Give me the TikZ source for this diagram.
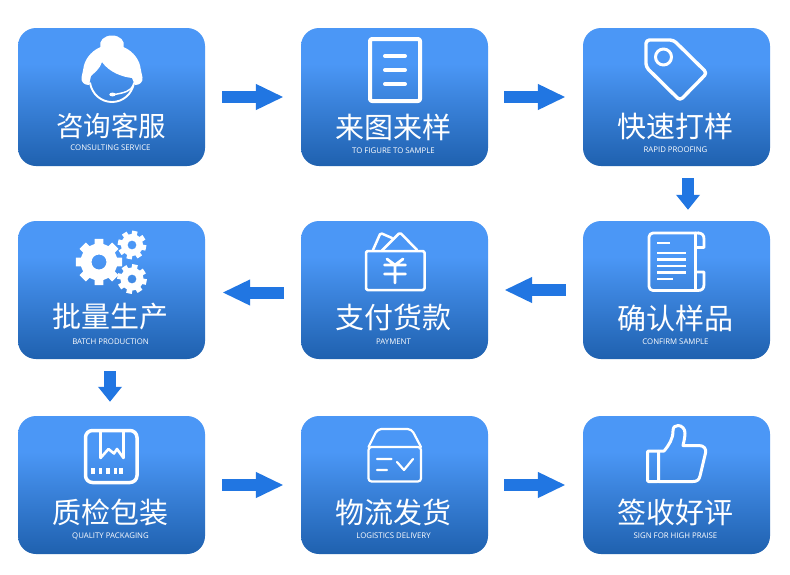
\documentclass[tikz,border=0pt]{standalone}
\usepackage{fontspec}
\usetikzlibrary{arrows.meta,calc}
\newfontfamily\cjkfont{Noto Sans CJK SC}
\newfontfamily\latfont{Open Sans}
\definecolor{cardtop}{RGB}{75,151,246}
\definecolor{cardbot}{RGB}{31,97,175}
\definecolor{arrowblue}{RGB}{33,118,226}
\pgfdeclareverticalshading{cardgrad}{100bp}{color(0bp)=(cardbot);color(25bp)=(cardbot);color(52bp)=(cardtop!72!cardbot);color(62bp)=(cardtop);color(75bp)=(cardtop);color(100bp)=(cardtop)}
\tikzset{
  card/.style={minimum width=187pt,minimum height=138pt,inner sep=0pt,rounded corners=18pt,shading=cardgrad,draw=none},
  cntitle/.style={text=white,font=\cjkfont\fontsize{29}{29}\selectfont,inner sep=0pt},
  entitle/.style={text=white,font=\latfont\fontsize{7.8}{8}\selectfont,inner sep=0pt},
  flowh/.style={arrowblue,line width=12pt,-{Triangle[length=28pt,width=24pt]},shorten >=17pt,shorten <=17pt},
  flowv/.style={arrowblue,line width=12pt,-{Triangle[length=15pt,width=23pt]}},
  ico/.style={white,line width=#1,line join=round,line cap=round},
  ico/.default=2.5pt
}
\newcommand{\gearshape}[6]{%
  \fill[white,even odd rule]
    ($(#1,#2)+(#3-14:#4)$) \foreach \a in {0,45,...,315}{
      -- ($(#1,#2)+(#3+\a-14:#4)$) -- ($(#1,#2)+(#3+\a-11:#5)$) -- ($(#1,#2)+(#3+\a+11:#5)$) -- ($(#1,#2)+(#3+\a+14:#4)$)
    } -- cycle (#1,#2) circle[radius=#6];}
\begin{document}
\begin{tikzpicture}[x=1pt,y=-1pt]
\useasboundingbox (0,0) rectangle (790,574);
\fill[white] (0,0) rectangle (790,574);
% cards
\node[card] (c1) at (111.5,97) {};
\node[card] (c2) at (394.5,97) {};
\node[card] (c3) at (676.5,97) {};
\node[card] (c4) at (111.5,290) {};
\node[card] (c5) at (394.5,290) {};
\node[card] (c6) at (676.5,290) {};
\node[card] (c7) at (111.5,485) {};
\node[card] (c8) at (394.5,485) {};
\node[card] (c9) at (676.5,485) {};
% titles
\node[cntitle,font=\cjkfont\fontsize{27.5}{28}\selectfont] (t1) at (111,126) {咨询客服};
\node[cntitle] (t2) at (393.5,127) {来图来样};
\node[cntitle] (t3) at (675.5,126) {快速打样};
\node[cntitle] (t4) at (110.5,317) {批量生产};
\node[cntitle] (t5) at (393.5,317) {支付货款};
\node[cntitle] (t6) at (675.5,318) {确认样品};
\node[cntitle] (t7) at (110.5,512) {质检包装};
\node[cntitle] (t8) at (393.5,512) {物流发货};
\node[cntitle] (t9) at (675.5,512) {签收好评};
\node[entitle] (e1) at (110.5,148) {CONSULTING SERVICE};
\node[entitle] (e2) at (393.5,151) {TO FIGURE TO SAMPLE};
\node[entitle] (e3) at (675.5,150) {RAPID PROOFING};
\node[entitle] (e4) at (110.5,342) {BATCH PRODUCTION};
\node[entitle] (e5) at (393.5,342) {PAYMENT};
\node[entitle] (e6) at (675.5,342) {CONFIRM SAMPLE};
\node[entitle] (e7) at (110.5,536) {QUALITY PACKAGING};
\node[entitle] (e8) at (393.5,536) {LOGISTICS DELIVERY};
\node[entitle] (e9) at (675.5,536) {SIGN FOR HIGH PRAISE};
% connectors
\draw[flowh] (c1.east) -- (c2.west);
\draw[flowh,shorten <=16pt] (c2.east) -- (c3.west);
\draw[flowv] ([xshift=11.5pt,yshift=-12pt]c3.south) -- ([xshift=11.5pt,yshift=11pt]c6.north);
\draw[flowh,shorten >=16pt] (c6.west) -- (c5.east);
\draw[flowh] ([yshift=-2.5pt]c5.west) -- ([yshift=-2.5pt]c4.east);
\draw[flowv] ([xshift=-1.5pt,yshift=-12pt]c4.south) -- ([xshift=-1.5pt,yshift=14pt]c7.north);
\draw[flowh] (c7.east) -- (c8.west);
\draw[flowh,shorten <=16pt] (c8.east) -- (c9.west);
% icon 1: agent
\fill[white] (89,85) .. controls (84,85) and (81,82) .. (81.5,77.5)
  .. controls (81.8,74) and (83,73) .. (83.3,69)
  .. controls (84,61) and (90,51.5) .. (100.5,47)
  .. controls (98.5,41) and (104,35.5) .. (112,35.5)
  .. controls (120,35.5) and (125.5,41) .. (123.5,47)
  .. controls (134,51.5) and (140,61) .. (140.7,69)
  .. controls (141,73) and (142.2,74) .. (142.5,77.5)
  .. controls (143,82) and (140,85) .. (135,85)
  -- (132,78) .. controls (122,77) and (109,72) .. (102,62)
  .. controls (100,69) and (94,73) .. (91,76) -- cycle;
\draw[ico=1.9pt] (90,83) .. controls (92,94) and (101,102) .. (112,102) .. controls (123,102) and (132,94) .. (134,83);
\draw[ico=1.5pt] (133.5,85) .. controls (131,91) and (124,93) .. (114,94.5);
\fill[white] (112.5,94.5) ellipse[x radius=3.2,y radius=1.9];
% icon 2: document
\draw[ico=4pt,rounded corners=2pt] (370,39) rectangle (420,101);
\draw[ico=4pt] (385,56) -- (405,56) (385,70) -- (405,70) (385,84) -- (405,84);
% icon 3: tag
\draw[ico=3.4pt,rounded corners=3.5pt] (646,40) -- (673.5,40) -- (707,73) -- (680,100.5) -- (646,67) -- cycle;
\draw[ico=3pt] (663.5,57) circle[radius=8];
% icon 4: gears
\gearshape{99}{262}{0}{18.5}{23.5}{7.5}
\gearshape{132}{245}{12}{11}{14.5}{4.5}
\gearshape{132}{279}{12}{11.5}{15}{4.5}
% icon 5: payment
\draw[ico=2.5pt,rounded corners=1.5pt] (366,251) rectangle (424.5,290);
\draw[ico=2.5pt,rounded corners=1.5pt] (373,250) -- (380.5,233) -- (392,238);
\draw[ico=2.5pt,rounded corners=1.5pt] (382,250.5) -- (400,232.5) -- (417,250);
\draw[ico=2.8pt] (387,259) -- (395,265) -- (403,259) (384.5,265) -- (405.5,265) (384.5,274) -- (405.5,274) (395,265) -- (395,283);
% icon 6: confirm sample
\draw[ico=2.8pt,rounded corners=4pt] (695.5,290.5) -- (649,290.5) -- (649,233) -- (699,233);
\draw[ico=2.8pt] (695.5,233) -- (695.5,290.5);
\draw[ico=2.8pt] (698,233) .. controls (702,233) and (704,235) .. (704,239) -- (704,247.5) -- (695.5,247.5);
\draw[ico=2.8pt] (695.5,272) -- (704,272) -- (704,284.5) .. controls (704,288.5) and (702,290.5) .. (698,290.5) -- (695.5,290.5);
\draw[ico=2.5pt,line cap=butt] (657,243) -- (670,243) (657,253) -- (686,253) (657,259.5) -- (686,259.5) (657,266) -- (686,266) (657,272.5) -- (686,272.5) (657,279) -- (673,279);
% icon 7: package
\draw[ico=3.5pt,rounded corners=7pt] (85.5,430.5) rectangle (137,482.5);
\draw[ico=2.6pt,line cap=butt] (100.5,431) -- (100.5,458) -- (108.5,449) -- (114,453.5) -- (117,449) -- (123.5,458) -- (123.5,431);
\foreach \px in {93,100.5,108,115.5,121}{\fill[white] (\px-1.7,467.5) rectangle (\px+1.7,474);}
% icon 8: box
\draw[ico=2.2pt,rounded corners=3pt] (368.5,447) rectangle (421,481.5);
\draw[ico=2.2pt,rounded corners=4pt] (368.5,447) -- (377.5,429) -- (411.5,429) -- (421,447);
\draw[ico=2.2pt] (377,459) -- (391.5,459) (377,470) -- (387,470) (397,462) -- (404,470) -- (413,459);
% icon 9: thumb
\draw[ico=3pt,rounded corners=1pt] (647.5,451) rectangle (658.5,481.5);
\draw[ico=3pt] (658.5,451) -- (664,451) .. controls (669,445) and (673,439) .. (673,431)
 .. controls (673,427) and (675,425.5) .. (678,425.5) .. controls (682,425.5) and (685,429) .. (685,433)
 .. controls (685,437) and (684,441) .. (683,445.5) -- (699,445.5)
 .. controls (704,445.5) and (706.5,449) .. (705.5,453) -- (700,476) .. controls (699,480) and (697,481.5) .. (693,481.5) -- (658.5,481.5);
\end{tikzpicture}
\end{document}
